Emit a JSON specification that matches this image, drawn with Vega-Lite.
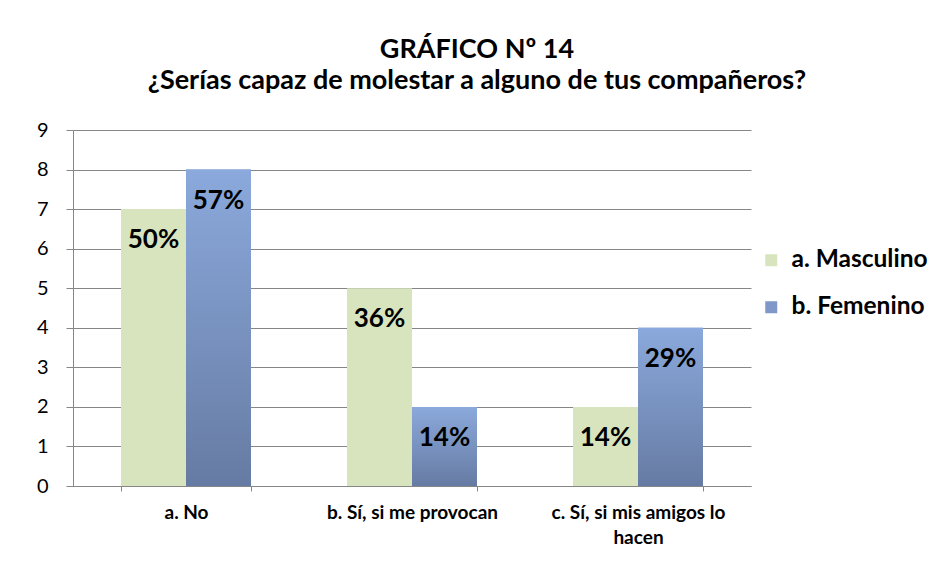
{
  "$schema": "https://vega.github.io/schema/vega-lite/v6.json",
  "width": 678,
  "height": 356,
  "autosize": {"type": "none"},
  "padding": {"left": 73, "top": 130, "right": 177, "bottom": 75},
  "background": "white",
  "title": {
    "text": ["GRÁFICO Nº 14", "¿Serías capaz de molestar a alguno de tus compañeros?"],
    "font": "Lato",
    "fontSize": 27,
    "fontWeight": "bold",
    "lineHeight": 31,
    "color": "black",
    "anchor": "middle",
    "frame": "group",
    "dx": 65,
    "offset": 25
  },
  "data": {
    "values": [
      {"respuesta": "a. No", "sexo": "a. Masculino", "valor": 7, "pct": "50%"},
      {"respuesta": "a. No", "sexo": "b. Femenino", "valor": 8, "pct": "57%"},
      {"respuesta": "b. Sí, si me provocan", "sexo": "a. Masculino", "valor": 5, "pct": "36%"},
      {"respuesta": "b. Sí, si me provocan", "sexo": "b. Femenino", "valor": 2, "pct": "14%"},
      {"respuesta": "c. Sí, si mis amigos lo hacen", "sexo": "a. Masculino", "valor": 2, "pct": "14%"},
      {"respuesta": "c. Sí, si mis amigos lo hacen", "sexo": "b. Femenino", "valor": 4, "pct": "29%"}
    ]
  },
  "encoding": {
    "x": {
      "field": "respuesta",
      "type": "nominal",
      "sort": null,
      "scale": {"paddingInner": 0.425, "paddingOuter": 0.2125},
      "axis": {
        "title": null,
        "labelAngle": 0,
        "tickBand": "extent",
        "tickSize": 5,
        "tickColor": "#868686",
        "domainColor": "#868686",
        "labelFont": "Lato",
        "labelFontWeight": "bold",
        "labelFontSize": 19,
        "labelColor": "black",
        "labelPadding": 12,
        "labelLineHeight": 25,
        "labelLimit": 300,
        "labelExpr": "datum.label == 'c. Sí, si mis amigos lo hacen' ? ['c. Sí, si mis amigos lo', 'hacen'] : datum.label"
      }
    },
    "xOffset": {
      "field": "sexo",
      "type": "nominal",
      "scale": {"domain": ["a. Masculino", "b. Femenino"], "paddingInner": 0, "paddingOuter": 0}
    },
    "y": {
      "field": "valor",
      "type": "quantitative",
      "scale": {"domain": [0, 9]},
      "axis": {
        "title": null,
        "values": [0, 1, 2, 3, 4, 5, 6, 7, 8, 9],
        "grid": true,
        "gridColor": "#868686",
        "tickColor": "#868686",
        "tickSize": 7,
        "domainColor": "#868686",
        "labelFont": "Lato",
        "labelFontSize": 20,
        "labelColor": "black",
        "labelPadding": 18
      }
    }
  },
  "layer": [
    {
      "mark": {"type": "bar"},
      "encoding": {
        "color": {
          "field": "sexo",
          "type": "nominal",
          "scale": {"domain": ["a. Masculino", "b. Femenino"], "range": ["#D7E4BD", "#7F98C9"]},
          "legend": {
            "title": null,
            "orient": "none",
            "legendX": 686,
            "legendY": 118,
            "symbolType": "square",
            "symbolSize": 144,
            "symbolStrokeWidth": 0,
            "labelFont": "Lato",
            "labelFontWeight": "bold",
            "labelFontSize": 24.5,
            "labelColor": "black",
            "labelOffset": 8,
            "rowPadding": 22
          }
        }
      }
    },
    {
      "transform": [{"filter": "datum.sexo == 'b. Femenino'"}],
      "mark": {
        "type": "bar",
        "color": {
          "gradient": "linear",
          "x1": 0, "y1": 0, "x2": 0, "y2": 1,
          "stops": [
            {"offset": 0, "color": "#8BA9DC"},
            {"offset": 1, "color": "#667BA3"}
          ]
        }
      }
    },
    {
      "mark": {
        "type": "text",
        "font": "Lato",
        "fontSize": 26,
        "fontWeight": "bold",
        "color": "black",
        "baseline": "middle",
        "dy": 31
      },
      "encoding": {
        "text": {"field": "pct", "type": "nominal"}
      }
    }
  ],
  "config": {
    "view": {"stroke": null}
  }
}
